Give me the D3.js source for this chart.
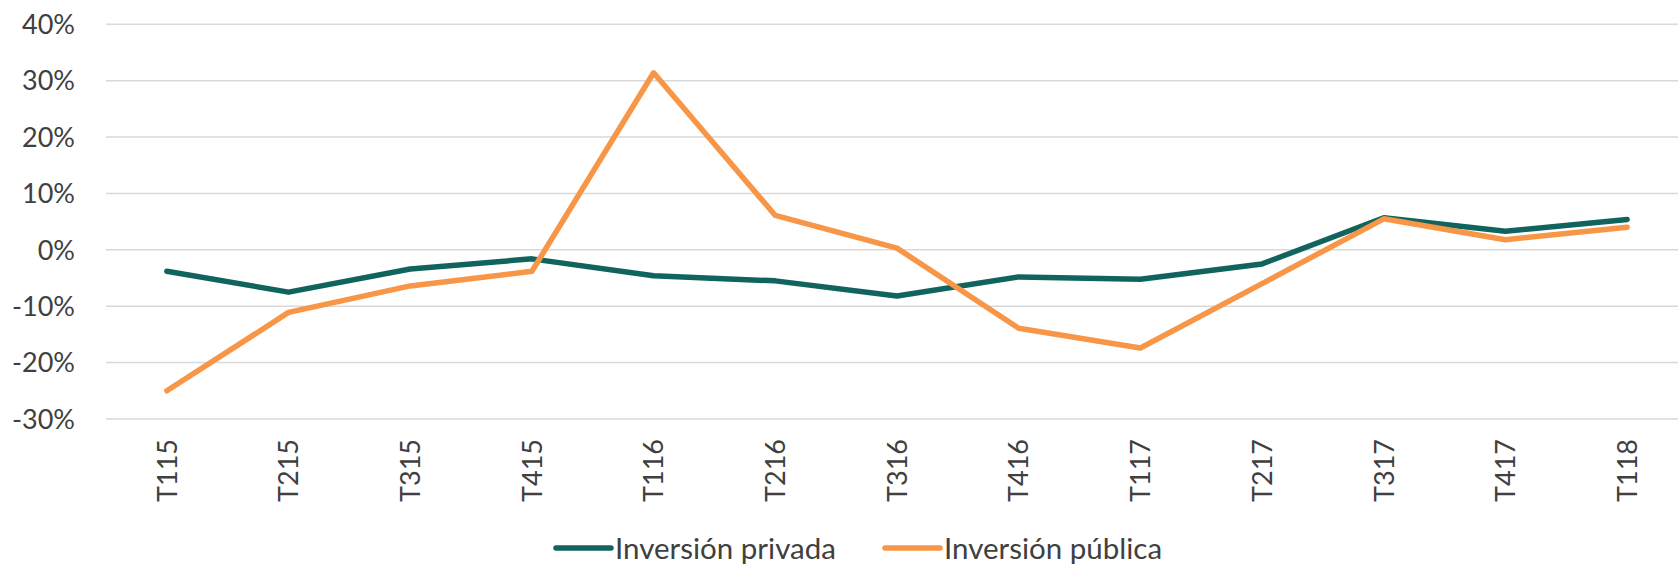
<!DOCTYPE html>
<html>
<head>
<meta charset="utf-8">
<script src="https://cdn.jsdelivr.net/npm/d3@7"></script>
<style>
  body { margin: 0; background: #fff; }
  text { font-family: Lato, "Open Sans", sans-serif; fill: #404040; }
</style>
</head>
<body>
<svg id="chart" width="1678" height="564"></svg>
<script>
"use strict";

// quarters on the x axis
var quarters = ["T115", "T215", "T315", "T415", "T116", "T216", "T316",
  "T416", "T117", "T217", "T317", "T417", "T118"]

// growth rates in percent
var privada = [-3.8, -7.5, -3.4, -1.6, -4.6, -5.5, -8.2, -4.8, -5.2, -2.5, 5.7, 3.3, 5.4]
var publica = [-25.0, -11.1, -6.4, -3.8, 31.4, 6.1, 0.3, -13.9, -17.4, -6.0, 5.5, 1.8, 4.0]

var yTicks = [-30, -20, -10, 0, 10, 20, 30, 40]

var seriesNames = ["Inversión privada", "Inversión pública"]
var seriesColors = ["#11645d", "#f79646"]

var svg = d3.select("#chart")
var width = +svg.attr("width")

var x = d3.scaleBand()
  .domain(quarters)
  .range([106, 1688])

var y = d3.scaleLinear()
  .domain([-30, 40])
  .range([419, 24.3])

// horizontal grid
svg.append("g")
  .selectAll("line")
  .data(yTicks)
  .enter()
  .append("line")
    .attr("x1", 106)
    .attr("x2", width)
    .attr("y1", function(d) { return y(d) })
    .attr("y2", function(d) { return y(d) })
    .style("stroke", "#d9d9d9")
    .style("stroke-width", 1.5)

// y axis labels
svg.append("g")
  .selectAll("text")
  .data(yTicks)
  .enter()
  .append("text")
    .attr("x", 75)
    .attr("y", function(d) { return y(d) })
    .attr("dy", "0.36em")
    .attr("text-anchor", "end")
    .style("font-size", "27px")
    .text(function(d) { return d + "%" })

// x axis labels, rotated
svg.append("g")
  .selectAll("text")
  .data(quarters)
  .enter()
  .append("text")
    .attr("transform", function(d) {
      return "translate(" + (x(d) + x.bandwidth() / 2) + ",439) rotate(-90)"
    })
    .attr("dy", "0.36em")
    .attr("text-anchor", "end")
    .style("font-size", "27px")
    .text(function(d) { return d })

var line = d3.line()
  .x(function(d, i) { return x(quarters[i]) + x.bandwidth() / 2 })
  .y(function(d) { return y(d) })

var series = [privada, publica]
svg.append("g")
  .selectAll("path")
  .data(series)
  .enter()
  .append("path")
    .attr("d", line)
    .style("fill", "none")
    .style("stroke", function(d, i) { return seriesColors[i] })
    .style("stroke-width", 5.5)
    .style("stroke-linejoin", "round")
    .style("stroke-linecap", "round")

// legend
var legendX = [556, 885]
var legend = svg.append("g")
  .selectAll("g")
  .data(seriesNames)
  .enter()
  .append("g")
    .attr("transform", function(d, i) { return "translate(" + legendX[i] + ",548)" })

legend.append("line")
  .attr("x1", 0)
  .attr("x2", 55)
  .style("stroke", function(d, i) { return seriesColors[i] })
  .style("stroke-width", 5.5)
  .style("stroke-linecap", "round")

legend.append("text")
  .attr("x", 59)
  .attr("dy", "0.36em")
  .style("font-size", "29.5px")
  .text(function(d) { return d })
</script>
</body>
</html>
